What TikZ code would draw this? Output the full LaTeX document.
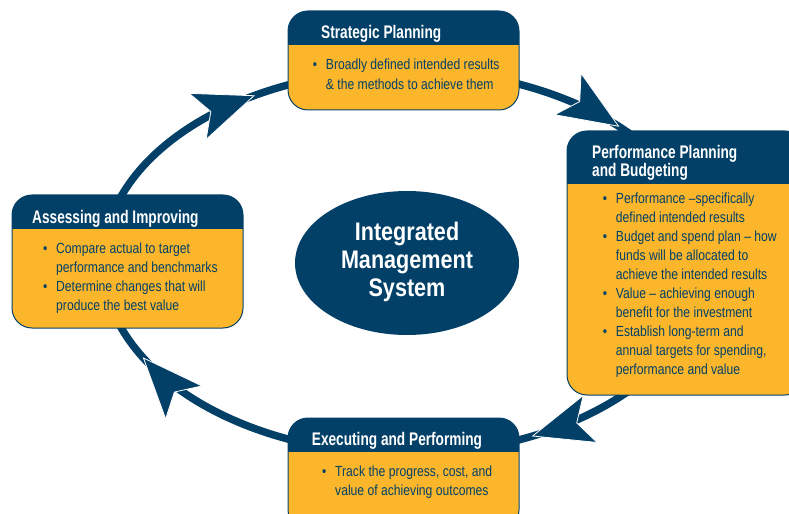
\documentclass[tikz,border=0pt]{standalone}
\usepackage{fontspec}
\setmainfont{Liberation Sans}
\newfontfamily\bodyfont{Liberation Sans}[FakeStretch=0.83]
\newfontfamily\headfont{Liberation Sans}[FakeStretch=0.75]
\newfontfamily\hubfont{Liberation Sans}[FakeStretch=0.85]
\usetikzlibrary{shapes.geometric}
\definecolor{hubnavy}{HTML}{034068}
\definecolor{hubgold}{HTML}{FBB62B}
\newcommand\itemdot{\makebox[13bp][l]{\textbullet}}
% stage panel: left, top, right, bottom, lower edge of the header band
\newcommand\stagebox[5]{%
  \begin{scope}
    \path[clip, rounded corners=20bp] (#1,#2) rectangle (#3,#4);
    \fill[hubgold] (#1,#2) rectangle (#3,#4);
    \fill[hubnavy] (#1,#2) rectangle (#3,#5);
  \end{scope}
  \draw[hubnavy, line width=1bp, rounded corners=20bp] (#1,#2) rectangle (#3,#4);
}
\tikzset{
  bodytxt/.style={inner sep=0, anchor=base west, text=hubnavy,
    font={\bodyfont\fontsize{14.7}{19.1}\selectfont}},
  headtxt/.style={inner sep=0, anchor=base west, text=white,
    font={\headfont\bfseries\fontsize{18.3}{17.5}\selectfont}},
  ring/.style={draw=hubnavy, line width=7.5bp},
  flowtip/.pic={\fill[hubnavy, draw=white, line width=0.8bp]
    (0,0) -- (-60,24.5) -- (-46,0) -- (-60,-24.5) -- cycle;}
}
\begin{document}
\begin{tikzpicture}[x=1bp, y=1bp]
\useasboundingbox (0,0) rectangle (789,-514);

% the cycle and its direction marks
\draw[ring] (405,-262) ellipse [x radius=302, y radius=192];
\foreach \t in {120,45,-65,210}
  \pic[rotate={atan2(-192*cos(\t),302*sin(\t))}]
    at ({405+302*cos(\t)},{-262+192*sin(\t)}) {flowtip};

% stage panels
\stagebox{288}{-11}{519}{-110}{-45}
\stagebox{567}{-131}{805}{-395}{-184}
\stagebox{12}{-195}{243}{-328}{-229}
\stagebox{288}{-418}{519}{-530}{-452}

% hub
\node[ellipse, fill=hubnavy, minimum width=224bp, minimum height=144bp, inner sep=0,
  text=white, font={\hubfont\bfseries\fontsize{25.5}{28}\selectfont}]
  (hub) at (407,-263) {\begin{tabular}{@{}c@{}}Integrated\\Management\\System\end{tabular}};

% Strategic Planning
\node[headtxt] (sp-title) at (321,-38.3) {Strategic Planning};
\node[bodytxt] (sp-body) at (312.7,-70) {\begin{tabular}[t]{@{}l@{}l@{}}
\itemdot & Broadly defined intended results\\
 & \& the methods to achieve them
\end{tabular}};

% Performance Planning and Budgeting
\node[headtxt] (pp-title) at (592,-158.3) {\begin{tabular}[t]{@{}l@{}}Performance Planning\\and Budgeting\end{tabular}};
\node[bodytxt] (pp-body) at (602.7,-203.3) {\begin{tabular}[t]{@{}l@{}l@{}}
\itemdot & Performance –specifically\\
 & defined intended results\\
\itemdot & Budget and spend plan – how\\
 & funds will be allocated to\\
 & achieve the intended results\\
\itemdot & Value – achieving enough\\
 & benefit for the investment\\
\itemdot & Establish long-term and\\
 & annual targets for spending,\\
 & performance and value
\end{tabular}};

% Assessing and Improving
\node[headtxt] (ai-title) at (32,-223.3) {Assessing and Improving};
\node[bodytxt] (ai-body) at (43,-253.3) {\begin{tabular}[t]{@{}l@{}l@{}}
\itemdot & Compare actual to target\\
 & performance and benchmarks\\
\itemdot & Determine changes that will\\
 & produce the best value
\end{tabular}};

% Executing and Performing
\node[headtxt] (ep-title) at (311.7,-445) {Executing and Performing};
\node[bodytxt] (ep-body) at (322,-476.7) {\begin{tabular}[t]{@{}l@{}l@{}}
\itemdot & Track the progress, cost, and\\
 & value of achieving outcomes
\end{tabular}};
\end{tikzpicture}
\end{document}
